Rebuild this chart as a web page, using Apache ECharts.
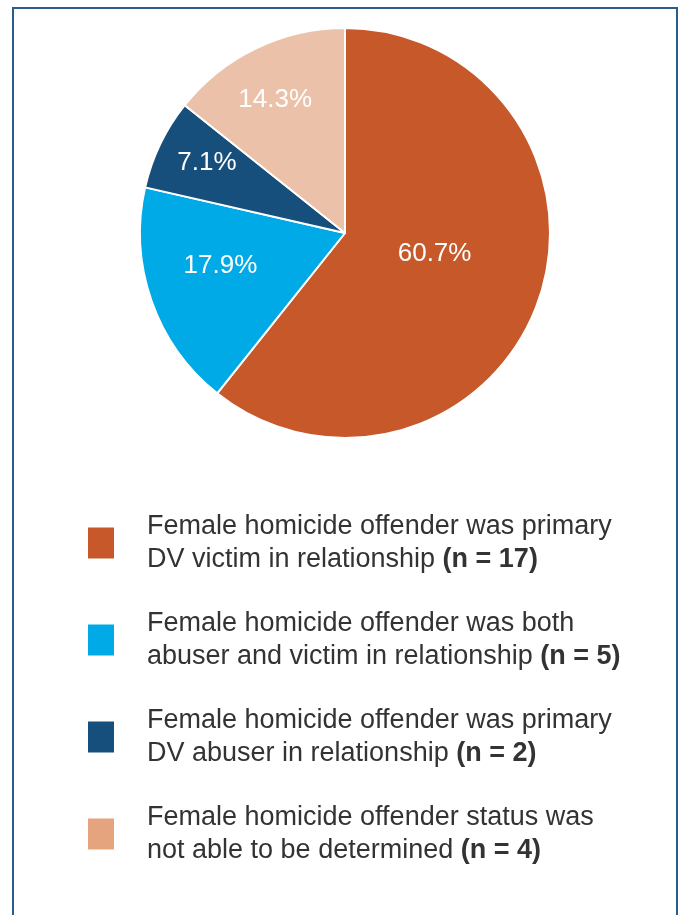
<!DOCTYPE html>
<html>
<head>
<meta charset="utf-8">
<script src="https://cdn.jsdelivr.net/npm/echarts@6/dist/echarts.min.js"></script>
<style>
  html, body { margin: 0; padding: 0; background: #fff; }
  #frame { position: absolute; left: 12px; top: 7px; width: 666px; height: 920px;
           border-left: 2px solid #2b5c8b; border-top: 2px solid #2b5c8b; border-right: 2px solid #2b5c8b; box-sizing: border-box; }
  #chart { position: absolute; left: 0; top: 0; width: 681px; height: 915px; }
</style>
</head>
<body>
<div id="frame"></div>
<div id="chart"></div>
<script>
// ---- data ----
const categories = [
  'Female homicide offender was primary DV victim in relationship',
  'Female homicide offender was both abuser and victim in relationship',
  'Female homicide offender was primary DV abuser in relationship',
  'Female homicide offender status was not able to be determined'
];
const legendLine1 = [
  'Female homicide offender was primary',
  'Female homicide offender was both',
  'Female homicide offender was primary',
  'Female homicide offender status was'
];
const legendLine2 = [
  'DV victim in relationship',
  'abuser and victim in relationship',
  'DV abuser in relationship',
  'not able to be determined'
];
const counts = [17, 5, 2, 4];

// ---- styles ----
const sliceColors = ['#C6582A', '#00AAE6', '#164F7B', '#EBC2A9'];
const legendColors = ['#C6582A', '#00AAE6', '#164F7B', '#E5A47D'];
const labelOffsets = [[-10, -14], [-25, -2], [-43, -24], [-24, -38]];
const font = 'Liberation Sans, Arial, Helvetica, sans-serif';

const chart = echarts.init(document.getElementById('chart'), null, { renderer: 'canvas' });
chart.setOption({
  animation: false,
  backgroundColor: 'transparent',
  legend: {
    orient: 'vertical',
    left: 86,
    top: 510,
    padding: 0,
    itemWidth: 28,
    itemHeight: 33,
    itemGap: 31,
    icon: 'rect',
    selectedMode: false,
    data: categories.map((c, i) => ({ name: c, itemStyle: { color: legendColors[i] } })),
    formatter: function (name) {
      const i = categories.indexOf(name);
      return legendLine1[i] + '\n' + legendLine2[i] + ' {b|(n = ' + counts[i] + ')}';
    },
    textStyle: {
      fontFamily: font,
      fontSize: 27,
      lineHeight: 33,
      color: '#333333',
      padding: [0, 0, 0, 27],
      rich: {
        b: { fontFamily: font, fontSize: 27, lineHeight: 33, fontWeight: 'bold', color: '#333333' }
      }
    }
  },
  series: [{
    type: 'pie',
    center: [345, 233],
    radius: [0, 205],
    startAngle: 90,
    clockwise: true,
    percentPrecision: 1,
    silent: true,
    itemStyle: { borderColor: '#ffffff', borderWidth: 2 },
    label: {
      show: true,
      position: 'inside',
      formatter: '{d}%',
      color: '#ffffff',
      fontFamily: font,
      fontSize: 26,
      fontWeight: 'normal'
    },
    labelLine: { show: false },
    labelLayout: function (params) {
      const o = labelOffsets[params.dataIndex];
      return { dx: o[0], dy: o[1] };
    },
    data: categories.map((c, i) => ({ name: c, value: counts[i], itemStyle: { color: sliceColors[i] } }))
  }]
});
</script>
</body>
</html>
